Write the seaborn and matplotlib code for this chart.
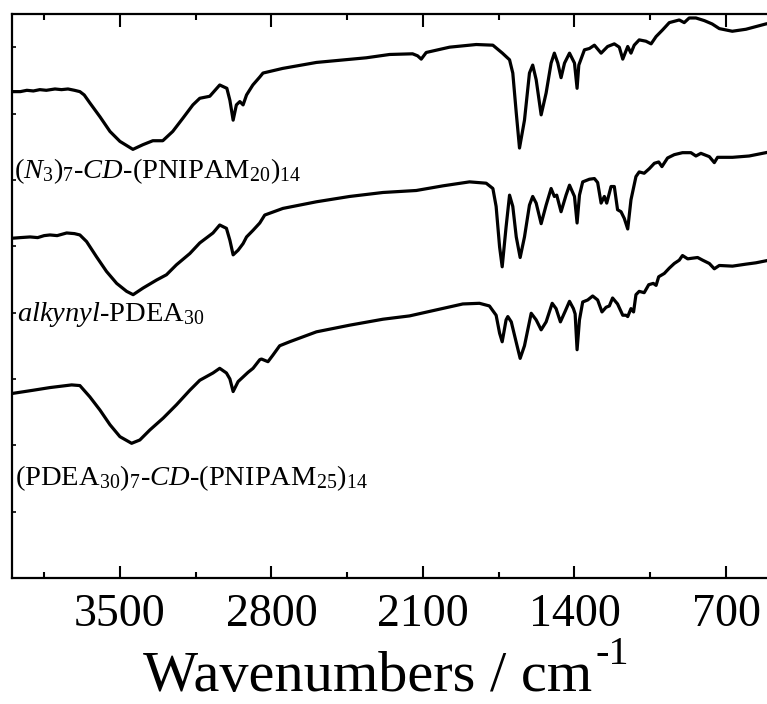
import matplotlib
matplotlib.use("Agg")

import matplotlib.pyplot as plt
import seaborn as sns
import pandas as pd
from matplotlib.ticker import MultipleLocator

# FTIR spectra (wavenumber in cm-1, offset transmittance)
wn_top = [4000, 3960, 3930, 3900, 3870, 3840, 3800, 3770, 3740, 3710, 3685, 3665,
          3639, 3592, 3546, 3500, 3440, 3394, 3348, 3302, 3256, 3209, 3163, 3131,
          3085, 3039, 3006, 2992, 2977, 2962, 2946, 2931, 2915, 2886, 2854, 2839,
          2748, 2592, 2362, 2254, 2148, 2125, 2108, 2085, 1977, 1854, 1777, 1733,
          1700, 1685, 1669, 1654, 1631, 1608, 1593, 1577, 1554, 1531, 1508, 1493,
          1477, 1462, 1446, 1423, 1400, 1388, 1380, 1354, 1331, 1308, 1277, 1247,
          1216, 1193, 1177, 1154, 1139, 1124, 1101, 1070, 1046, 1023, 993, 962,
          916, 893, 870, 839, 800, 764, 731, 671, 608, 516, 500]
t_top = [7.33, 7.33, 7.35, 7.34, 7.36, 7.35, 7.37, 7.36, 7.37, 7.35, 7.33, 7.28,
         7.16, 6.95, 6.73, 6.58, 6.46, 6.53, 6.59, 6.59, 6.73, 6.93, 7.13, 7.23,
         7.26, 7.43, 7.38, 7.20, 6.90, 7.13, 7.18, 7.13, 7.28, 7.43, 7.55, 7.61,
         7.68, 7.77, 7.84, 7.89, 7.90, 7.87, 7.82, 7.92, 8.00, 8.04, 8.03, 7.91,
         7.81, 7.61, 7.01, 6.48, 6.90, 7.61, 7.73, 7.51, 6.98, 7.31, 7.76, 7.91,
         7.76, 7.54, 7.76, 7.91, 7.76, 7.38, 7.73, 7.96, 7.98, 8.03, 7.91, 8.01,
         8.05, 8.00, 7.82, 8.01, 7.91, 8.03, 8.11, 8.09, 8.05, 8.16, 8.26, 8.37,
         8.41, 8.37, 8.44, 8.44, 8.40, 8.35, 8.28, 8.24, 8.27, 8.35, 8.36]

wn_mid = [4000, 3960, 3915, 3880, 3850, 3823, 3790, 3746, 3710, 3685, 3654, 3608,
          3562, 3515, 3469, 3439, 3393, 3331, 3285, 3239, 3177, 3131, 3070, 3039,
          3008, 2992, 2977, 2954, 2931, 2915, 2885, 2854, 2831, 2747, 2592, 2439,
          2285, 2131, 2008, 1885, 1808, 1777, 1762, 1746, 1734, 1716, 1700, 1685,
          1669, 1651, 1631, 1608, 1593, 1577, 1554, 1531, 1508, 1493, 1482, 1462,
          1439, 1423, 1400, 1388, 1377, 1362, 1331, 1308, 1293, 1277, 1262, 1251,
          1231, 1216, 1201, 1185, 1170, 1154, 1139, 1116, 1101, 1078, 1054, 1031,
          1011, 996, 970, 939, 901, 862, 839, 816, 777, 754, 739, 670, 593, 516, 500]
t_mid = [5.12, 5.13, 5.14, 5.13, 5.16, 5.17, 5.16, 5.20, 5.19, 5.17, 5.07, 4.84,
         4.62, 4.44, 4.32, 4.27, 4.37, 4.49, 4.57, 4.72, 4.89, 5.05, 5.20, 5.32,
         5.27, 5.09, 4.87, 4.94, 5.04, 5.14, 5.24, 5.35, 5.47, 5.57, 5.67, 5.75,
         5.81, 5.84, 5.91, 5.97, 5.95, 5.87, 5.60, 4.99, 4.69, 5.29, 5.77, 5.60,
         5.14, 4.83, 5.14, 5.62, 5.75, 5.65, 5.34, 5.62, 5.87, 5.75, 5.77, 5.52,
         5.77, 5.92, 5.75, 5.35, 5.77, 5.97, 6.01, 6.02, 5.96, 5.65, 5.75, 5.65,
         5.90, 5.90, 5.55, 5.52, 5.42, 5.26, 5.70, 6.05, 6.12, 6.10, 6.17, 6.25,
         6.27, 6.20, 6.33, 6.38, 6.41, 6.41, 6.36, 6.40, 6.35, 6.26, 6.34, 6.34,
         6.36, 6.41, 6.42]

wn_bot = [4000, 3900, 3823, 3723, 3685, 3639, 3592, 3546, 3500, 3446, 3408, 3362,
          3300, 3239, 3177, 3131, 3070, 3039, 3008, 2992, 2977, 2954, 2931, 2908,
          2885, 2854, 2846, 2816, 2793, 2762, 2716, 2592, 2439, 2285, 2162, 2039,
          1916, 1839, 1793, 1762, 1746, 1734, 1716, 1708, 1692, 1669, 1651, 1631,
          1600, 1577, 1554, 1531, 1503, 1485, 1465, 1443, 1423, 1405, 1397, 1388,
          1377, 1362, 1339, 1316, 1293, 1273, 1254, 1239, 1224, 1201, 1177, 1162,
          1154, 1139, 1127, 1116, 1101, 1078, 1057, 1036, 1023, 1011, 985, 962,
          939, 916, 901, 877, 855, 831, 808, 777, 754, 731, 670, 608, 562, 516, 500]
t_bot = [2.78, 2.83, 2.87, 2.91, 2.90, 2.73, 2.53, 2.31, 2.13, 2.03, 2.08, 2.23,
         2.41, 2.61, 2.83, 2.98, 3.09, 3.16, 3.09, 3.00, 2.81, 2.96, 3.03, 3.10,
         3.16, 3.29, 3.30, 3.26, 3.36, 3.50, 3.56, 3.71, 3.81, 3.90, 3.95, 4.04,
         4.13, 4.14, 4.10, 3.96, 3.69, 3.56, 3.89, 3.94, 3.86, 3.55, 3.31, 3.50,
         3.99, 3.89, 3.74, 3.86, 4.14, 4.06, 3.86, 4.02, 4.17, 4.06, 3.98, 3.44,
         3.89, 4.16, 4.19, 4.25, 4.19, 4.01, 4.08, 4.10, 4.22, 4.13, 3.96, 3.96,
         3.94, 4.06, 4.01, 4.27, 4.32, 4.30, 4.42, 4.44, 4.41, 4.54, 4.59, 4.67,
         4.74, 4.79, 4.86, 4.81, 4.82, 4.83, 4.79, 4.74, 4.66, 4.71, 4.70, 4.73,
         4.75, 4.78, 4.79]

labels = [r"$(N_3)_7$-$CD$-(PNIPAM$_{20}$)$_{14}$",
          r"$\mathit{alkynyl}$-PDEA$_{30}$",
          r"(PDEA$_{30}$)$_7$-$CD$-(PNIPAM$_{25}$)$_{14}$"]
label_x = [3989, 3975, 3985]
label_y = [6.03, 3.87, 1.40]


def main():
    sns.set_style("ticks")
    plt.rcParams["font.family"] = ["Liberation Serif", "DejaVu Serif"]
    plt.rcParams["mathtext.fontset"] = "custom"
    plt.rcParams["mathtext.rm"] = "Liberation Serif"
    plt.rcParams["mathtext.it"] = "Liberation Serif:italic"
    plt.rcParams["mathtext.bf"] = "Liberation Serif:bold"
    plt.rcParams["text.color"] = "black"
    plt.rcParams["axes.labelcolor"] = "black"
    plt.rcParams["xtick.color"] = "black"
    plt.rcParams["ytick.color"] = "black"

    fig = plt.figure(figsize=(7.67, 7.04), dpi=100)
    ax = fig.add_axes([0.01525, 0.17898, 0.98774, 0.80114])

    for wn, t in [(wn_top, t_top), (wn_mid, t_mid), (wn_bot, t_bot)]:
        df = pd.DataFrame({"wn": wn, "t": t})
        sns.lineplot(data=df, x="wn", y="t", sort=False, estimator=None,
                     color="black", linewidth=2.3, ax=ax)

    for lab, x, y in zip(labels, label_x, label_y):
        ax.text(x, y, lab, fontsize=20.5, va="baseline", ha="left", color="black")

    ax.set_xlim(4000, 500)
    ax.set_ylim(0, 8.5)
    ax.xaxis.set_major_locator(MultipleLocator(700))
    ax.xaxis.set_minor_locator(MultipleLocator(350))
    ax.yaxis.set_major_locator(MultipleLocator(1))
    ax.set_yticklabels([])
    ax.set_ylabel("")

    for s in ax.spines.values():
        s.set_linewidth(1.6)
        s.set_color("black")

    ax.tick_params(axis="x", which="major", direction="in", length=9, width=1.5,
                   labelsize=33, pad=11, top=True, labelcolor="black")
    ax.tick_params(axis="x", which="minor", direction="in", length=4.5, width=1.5,
                   top=True)
    ax.tick_params(axis="y", which="major", direction="in", length=3, width=1.2,
                   left=True, right=False)

    # axis title with a high-set "-1" like the original
    ax.set_xlabel("Wavenumbers / cm", fontsize=42, color="black")
    ax.xaxis.set_label_coords(0.4703, -0.129)
    ax.annotate("-1", xy=(1.0, 1.0), xycoords=ax.xaxis.label,
                xytext=(2, -3), textcoords="offset points",
                fontsize=29, ha="left", va="center", color="black")

    fig.savefig("out.png", dpi=100)
    plt.close(fig)


if __name__ == "__main__":
    main()
